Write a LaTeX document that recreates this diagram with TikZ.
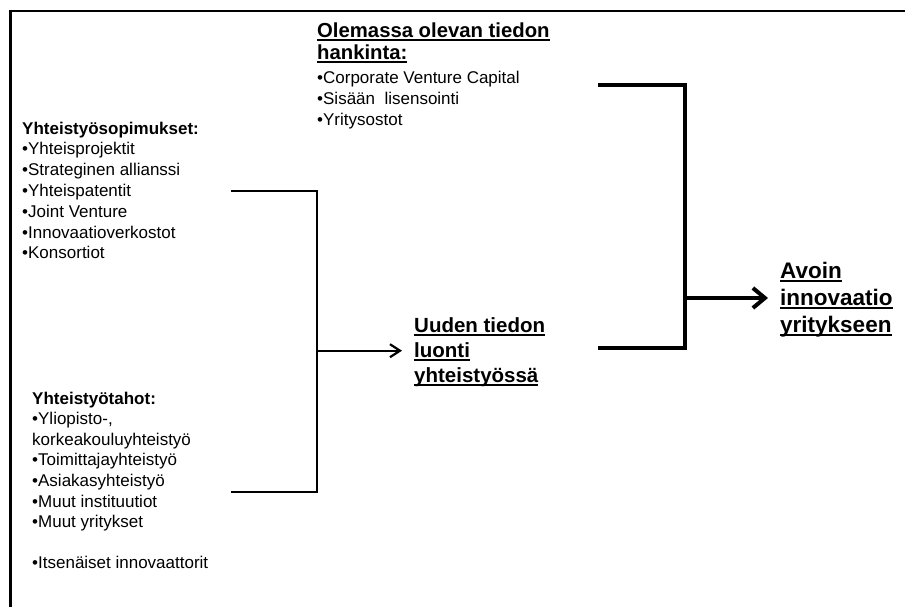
\documentclass[tikz,border=0pt]{standalone}
\usepackage{fontspec}
\setmainfont{Liberation Sans}
\usetikzlibrary{arrows.meta}
\newcommand\ulx[1]{\setbox0\hbox{#1}\rlap{\vrule width\wd0 height -1.5pt depth 3.5pt}\box0}
\newcommand\stk[2]{\vtop{\baselineskip=#1\lineskiplimit=-30pt\lineskip=0pt #2}}
\newcommand\li[1]{\hbox{#1}}
\begin{document}
\begin{tikzpicture}[x=1pt,y=-1pt,
  txt/.style={inner sep=0pt, anchor=base west},
  frame/.style={line width=2.5pt},
  thinbr/.style={line width=2.2pt},
  thickbr/.style={line width=4pt},
]
\useasboundingbox (0,0) rectangle (905,606);
\fill[white] (0,0) rectangle (905,606);
\draw[frame] (10.5,620) |- (920,11);

\node[txt, font=\fontsize{17}{20}\selectfont] (coop) at (22,134)
  {\stk{20.8pt}{\li{\bfseries Yhteistyösopimukset:}\li{•Yhteisprojektit}\li{•Strateginen allianssi}\li{•Yhteispatentit}\li{•Joint Venture}\li{•Innovaatioverkostot}\li{•Konsortiot}}};

\node[txt, font=\fontsize{17}{20}\selectfont] (part) at (32,404)
  {\stk{20.6pt}{\li{\bfseries Yhteistyötahot:}\li{•Yliopisto-,}\li{korkeakouluyhteistyö}\li{•Toimittajayhteistyö}\li{•Asiakasyhteistyö}\li{•Muut instituutiot}\li{•Muut yritykset}\li{}\li{•Itsenäiset innovaattorit}}};

\node[txt, font=\bfseries\fontsize{20.3}{23}\selectfont] (acq) at (317,37)
  {\stk{22.5pt}{\li{\ulx{Olemassa olevan tiedon}}\li{\ulx{hankinta:}}}};

\node[txt, font=\fontsize{17}{20}\selectfont] (acqlist) at (317,83)
  {\stk{21pt}{\li{•Corporate Venture Capital}\li{•Sisään\ \ lisensointi}\li{•Yritysostot}}};

\node[txt, font=\bfseries\fontsize{20.5}{25}\selectfont] (new) at (414,332)
  {\stk{25pt}{\li{\ulx{Uuden tiedon}}\li{\ulx{luonti}}\li{\ulx{yhteistyössä}}}};

\node[txt, font=\bfseries\fontsize{22.5}{27}\selectfont] (open) at (780,278)
  {\stk{27pt}{\li{\ulx{Avoin}}\li{\ulx{innovaatio}}\li{\ulx{yritykseen}}}};

\coordinate (l1) at (231,190.7);
\coordinate (l2) at (231,492);
\coordinate (lmid) at (317,350.7);
\draw[thinbr] (l1) -| (lmid) |- (l2);
\draw[thinbr, -{Straight Barb[length=10pt,width=13pt]}] (lmid) -- ([xshift=-12pt]new.west |- lmid);

\coordinate (r1) at (598,85);
\coordinate (r2) at (598,348);
\coordinate (rmid) at (685,298);
\draw[thickbr] (r1) -| (rmid) |- (r2);
\draw[thickbr, -{Straight Barb[length=12pt,width=20pt]}] (rmid) -- ([xshift=-12pt]open.west |- rmid);
\end{tikzpicture}
\end{document}
